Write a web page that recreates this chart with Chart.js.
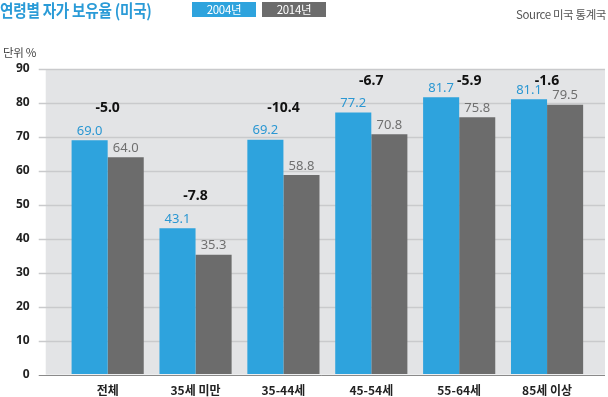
<!DOCTYPE html>
<html>
<head>
<meta charset="utf-8">
<script src="https://cdn.jsdelivr.net/npm/chart.js@4"></script>
<style>
  html, body { margin: 0; padding: 0; background: #fff; }
  #wrap { position: relative; width: 608px; height: 397px; overflow: hidden; font-family: "Noto Sans CJK KR", sans-serif; }
  #title { position: absolute; left: 0; top: -3px; font-size: 17px; font-weight: bold; color: #2a9bd7; letter-spacing: -0.3px; white-space: nowrap; transform: scaleX(0.86); transform-origin: 0 0; }
  .lg { position: absolute; top: 2px; width: 64px; height: 15px; color: #fff; font-size: 11.5px; line-height: 15px; text-align: center; letter-spacing: -0.3px; }
  #source { position: absolute; right: 2px; top: 6px; font-size: 11.5px; color: #555; letter-spacing: -0.4px; white-space: nowrap; }
  #unit { position: absolute; left: 3px; top: 44px; font-size: 11.5px; color: #444; letter-spacing: -0.3px; }
  canvas { position: absolute; left: 0; top: 0; }
</style>
</head>
<body>
<div id="wrap">
  <canvas id="c" width="608" height="397"></canvas>
  <div id="title">연령별 자가 보유율 (미국)</div>
  <div id="legend"></div>
  <div id="source">Source 미국 통계국</div>
  <div id="unit">단위 %</div>
</div>
<script>
const categories = ['전체', '35세 미만', '35-44세', '45-54세', '55-64세', '85세 이상'];
const seriesNames = ['2004년', '2014년'];
const values2004 = [69.0, 43.1, 69.2, 77.2, 81.7, 81.1];
const values2014 = [64.0, 35.3, 58.8, 70.8, 75.8, 79.5];
const diffLabels = ['-5.0', '-7.8', '-10.4', '-6.7', '-5.9', '-1.6'];
const yTicks = [0, 10, 20, 30, 40, 50, 60, 70, 80, 90];

const BLUE = '#2ea3dd';
const GRAY = '#6c6c6c';
const colors = [BLUE, GRAY];
const labelColors = ['#2b97d2', '#6f6f6f'];
const NUMFONT = '"Noto Sans", "Noto Sans CJK KR", sans-serif';

// legend from series
const legendEl = document.getElementById('legend');
const legendLefts = [192, 262];
seriesNames.forEach((n, i) => {
  const d = document.createElement('div');
  d.className = 'lg';
  d.style.left = legendLefts[i] + 'px';
  d.style.background = colors[i];
  d.textContent = n;
  legendEl.appendChild(d);
});

const bgPlugin = {
  id: 'bgGrid',
  beforeDatasetsDraw(chart) {
    const { ctx, chartArea } = chart;
    const y = chart.scales.y;
    ctx.save();
    ctx.fillStyle = '#e3e4e6';
    ctx.fillRect(chartArea.left - 18, chartArea.top, (chartArea.right + 14) - (chartArea.left - 18), chartArea.bottom - chartArea.top);
    yTicks.forEach(t => {
      const py = Math.round(y.getPixelForValue(t)) + 0.5;
      ctx.strokeStyle = t === 0 ? '#8a8a8a' : '#c9cacc';
      ctx.lineWidth = t === 0 ? 1 : 1.5;
      ctx.beginPath();
      ctx.moveTo(chartArea.left - 25, py);
      ctx.lineTo(chartArea.right + 14, py);
      ctx.stroke();
    });
    ctx.restore();
  }
};

const labelPlugin = {
  id: 'valueLabels',
  afterDatasetsDraw(chart) {
    const { ctx } = chart;
    ctx.save();
    ctx.textAlign = 'center';
    ctx.textBaseline = 'middle';
    const blueLabelY = [];
    chart.data.datasets.forEach((ds, di) => {
      const meta = chart.getDatasetMeta(di);
      meta.data.forEach((bar, i) => {
        const ly = bar.y - 9;
        if (di === 0) blueLabelY[i] = ly;
        ctx.font = '13px ' + NUMFONT;
        ctx.fillStyle = labelColors[di];
        ctx.fillText(ds.data[i].toFixed(1), bar.x, ly);
      });
    });
    // difference labels above each group
    const m0 = chart.getDatasetMeta(0);
    const m1 = chart.getDatasetMeta(1);
    const topLimit = chart.chartArea.top + 12;
    ctx.font = 'bold 14px ' + NUMFONT;
    ctx.fillStyle = '#111';
    diffLabels.forEach((txt, i) => {
      const cx = (m0.data[i].x + m1.data[i].x) / 2;
      let dy = blueLabelY[i] - 23;
      let dx = 0;
      if (dy < topLimit) {
        dy = topLimit;
        if (blueLabelY[i] - dy < 8) dx = 10;
      }
      ctx.fillText(txt, cx + dx, dy);
    });
    ctx.restore();
  }
};

new Chart(document.getElementById('c'), {
  type: 'bar',
  data: {
    labels: categories,
    datasets: [
      { label: seriesNames[0], data: values2004, backgroundColor: BLUE, borderWidth: 0 },
      { label: seriesNames[1], data: values2014, backgroundColor: GRAY, borderWidth: 0 }
    ]
  },
  options: {
    responsive: false,
    animation: false,
    devicePixelRatio: 1,
    layout: { padding: { top: 69, right: 17, bottom: -10, left: 6 } },
    categoryPercentage: 0.821,
    barPercentage: 1.0,
    plugins: { legend: { display: false }, tooltip: { enabled: false }, title: { display: false } },
    scales: {
      x: {
        grid: { display: false, drawTicks: false },
        border: { display: false },
        ticks: { color: '#222', font: { family: '"Noto Sans CJK KR", sans-serif', size: 12, weight: 'bold' }, padding: 9 }
      },
      y: {
        min: 0, max: 90,
        afterBuildTicks(scale) { scale.ticks = yTicks.map(v => ({ value: v })); },
        grid: { display: true, drawOnChartArea: false, drawTicks: true, tickLength: 24, color: 'rgba(0,0,0,0)' },
        border: { display: false },
        ticks: { color: '#222', font: { family: NUMFONT, size: 12, weight: 'bold' }, padding: 10 }
      }
    }
  },
  plugins: [bgPlugin, labelPlugin]
});
</script>
</body>
</html>
